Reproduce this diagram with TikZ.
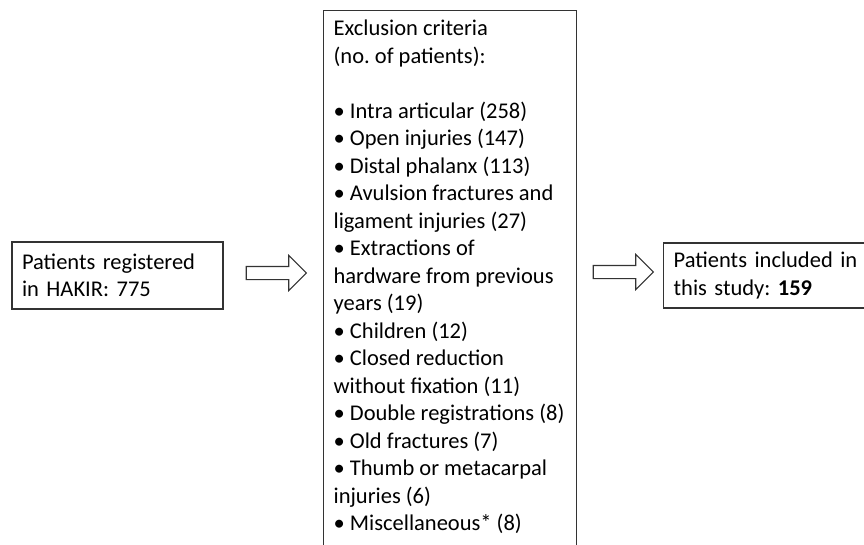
\documentclass[tikz,border=0pt]{standalone}
\usepackage{fontspec}
\setmainfont{Carlito}
\usetikzlibrary{shapes.arrows}
\frenchspacing

\begin{document}
\begin{tikzpicture}[x=1pt, y=-1pt,
  box/.style={draw=black!80, line width=1.3pt, inner xsep=10pt, inner ysep=6pt,
              align=left, font=\fontsize{22.5}{27.5}\selectfont},
  blockarrow/.style={single arrow, draw=black!80, line width=1.1pt, fill=white,
                     minimum height=60pt, inner xsep=0pt, inner ysep=6pt,
                     single arrow head extend=11pt},
]
\useasboundingbox (0,0) rectangle (864,545);
\clip (0,0) rectangle (864,545);

\node[box, text width=191pt, minimum height=67pt] (reg) at (117.5,275.5)
  {Patients registered\\in HAKIR: 775};

\node[box, anchor=north west] (crit) at (323,10) {\parbox[t][570pt][t]{233pt}{\raggedright
  \strut Exclusion criteria\\
  (no. of patients):\\[27.5pt]
  • Intra articular (258)\\
  • Open injuries (147)\\
  • Distal phalanx (113)\\
  • Avulsion fractures and\\
  ligament injuries (27)\\
  • Extractions of\\
  hardware from previous\\
  years (19)\\
  • Children (12)\\
  • Closed reduction\\
  without fixation (11)\\
  • Double registrations (8)\\
  • Old fractures (7)\\
  • Thumb or metacarpal\\
  injuries (6)\\
  • Miscellaneous* (8)}};

\node[box, text width=190pt, minimum height=65pt, anchor=west] (incl) at (663,275.5)
  {Patients included in\\this study: \textbf{159}};

\node[blockarrow] (arr1) at (273,273) {};
\node[blockarrow] (arr2) at (620,272) {};
\end{tikzpicture}
\end{document}
